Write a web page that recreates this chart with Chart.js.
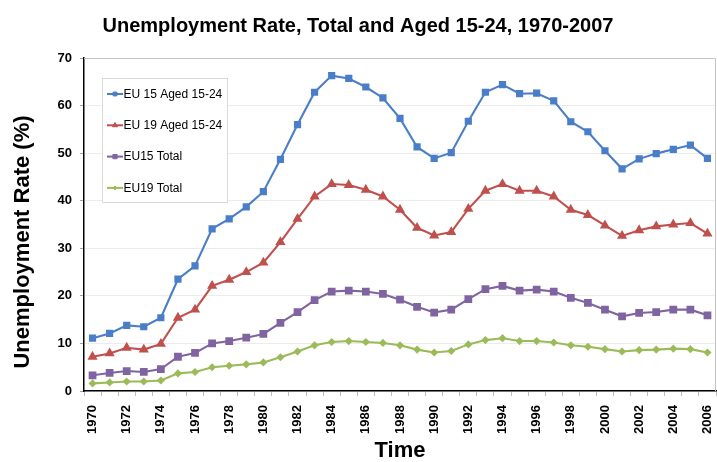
<!DOCTYPE html>
<html>
<head>
<meta charset="utf-8">
<script src="https://cdn.jsdelivr.net/npm/chart.js@4"></script>
<style>
  html, body { margin: 0; padding: 0; background: #fff; }
  #wrap { width: 717px; height: 462px; }
</style>
</head>
<body>
<div id="wrap"><canvas id="myChart" width="717" height="462"></canvas></div>
<script>
var years = [];
for (var y = 1970; y <= 2006; y++) years.push(String(y));

var eu15Young = [11.1, 12.1, 13.8, 13.5, 15.4, 23.5, 26.3, 34.1, 36.2, 38.7, 41.9, 48.7, 56.0, 62.8, 66.3, 65.7, 63.9, 61.6,
  57.3, 51.3, 48.9, 50.1, 56.7, 62.8, 64.4, 62.5, 62.6, 61.0, 56.6, 54.5, 50.5, 46.7, 48.8, 49.9, 50.8, 51.7, 48.9];
var eu19Young = [7.2, 7.9, 9.1, 8.7, 9.9, 15.4, 17.1, 22.1, 23.4, 25.0, 27.0, 31.3, 36.2, 40.9, 43.5, 43.3, 42.3, 40.9,
  38.1, 34.3, 32.7, 33.4, 38.3, 42.1, 43.5, 42.1, 42.1, 40.9, 38.1, 37.0, 34.8, 32.6, 33.8, 34.6, 35.0, 35.3, 33.1];
var eu15Total = [3.3, 3.8, 4.2, 4.0, 4.6, 7.2, 8.0, 10.0, 10.5, 11.2, 12.0, 14.3, 16.6, 19.1, 20.9, 21.1, 20.9, 20.4,
  19.2, 17.7, 16.5, 17.1, 19.3, 21.4, 22.1, 21.1, 21.3, 20.9, 19.6, 18.5, 17.1, 15.7, 16.4, 16.6, 17.1, 17.1, 15.9];
var eu19Total = [1.6, 1.8, 2.0, 2.0, 2.2, 3.7, 4.0, 5.0, 5.3, 5.6, 6.0, 7.1, 8.3, 9.6, 10.3, 10.5, 10.3, 10.1,
  9.6, 8.7, 8.1, 8.4, 9.8, 10.7, 11.1, 10.5, 10.5, 10.2, 9.6, 9.3, 8.8, 8.3, 8.6, 8.7, 8.9, 8.8, 8.1];

var FONT = "'Liberation Sans', Arial, sans-serif";

// markers may overflow the plot; don't let them shrink the chart area
Chart.LineController.prototype.getMaxOverflow = function () { return 0; };

// legend box inside plot + frame + y title
var extras = {
  id: "extras",
  beforeDatasetsDraw: function (chart) {
    var ctx = chart.ctx, a = chart.chartArea;
    ctx.save();
    ctx.strokeStyle = "#c4c4c4";
    ctx.lineWidth = 1;
    ctx.beginPath();
    ctx.moveTo(a.left, a.top + 0.5);
    ctx.lineTo(a.right - 0.5, a.top + 0.5);
    ctx.lineTo(a.right - 0.5, a.bottom);
    ctx.stroke();
    ctx.restore();
  },
  afterDatasetsDraw: function (chart) {
    var ctx = chart.ctx;
    ctx.save();
    ctx.fillStyle = "#fff";
    ctx.strokeStyle = "#d9d9d9";
    ctx.lineWidth = 1;
    ctx.fillRect(102, 78, 126, 125);
    ctx.strokeRect(102.5, 78.5, 125, 124);
    chart.data.datasets.forEach(function (ds, i) {
      var cy = 94 + i * 31.3;
      ctx.strokeStyle = ds.borderColor;
      ctx.fillStyle = ds.borderColor;
      ctx.lineWidth = 2;
      ctx.beginPath();
      ctx.moveTo(107, cy);
      ctx.lineTo(123, cy);
      ctx.stroke();
      ctx.lineWidth = 1;
      Chart.helpers.drawPoint(ctx, {
        pointStyle: ds.pointStyle, radius: ds.pointRadius * 0.75, rotation: 0, borderWidth: 1
      }, 115, cy);
      ctx.fillStyle = "#000";
      ctx.font = "12px " + FONT;
      ctx.textBaseline = "middle";
      ctx.textAlign = "left";
      ctx.fillText(ds.label, 123.5, cy + 0.5);
    });
    ctx.restore();
  },
  afterDraw: function (chart) {
    var ctx = chart.ctx;
    ctx.save();
    ctx.translate(23, 242);
    ctx.rotate(-Math.PI / 2);
    ctx.fillStyle = "#000";
    ctx.font = "bold 22px " + FONT;
    ctx.textAlign = "center";
    ctx.textBaseline = "middle";
    ctx.fillText("Unemployment Rate (%)", 0, 0);
    ctx.restore();
  }
};

function series(label, data, color, style, r) {
  return {
    label: label,
    data: data,
    borderColor: color,
    backgroundColor: color,
    pointBackgroundColor: color,
    pointBorderColor: color,
    borderWidth: 2.1,
    pointStyle: style,
    pointRadius: r,
    pointHoverRadius: r,
    tension: 0,
    fill: false,
    clip: false
  };
}

function noPad(s) {
  s.paddingLeft = 0; s.paddingRight = 0; s.paddingTop = 0; s.paddingBottom = 0;
}

var ctx = document.getElementById("myChart").getContext("2d");
var myChart = new Chart(ctx, {
  type: "line",
  data: {
    labels: years,
    datasets: [
      series("EU 15 Aged 15-24", eu15Young, "#4A7EC8", "rect", 3.6),
      series("EU 19 Aged 15-24", eu19Young, "#C0504D", "triangle", 3.8),
      series("EU15 Total", eu15Total, "#8064A2", "rect", 4),
      series("EU19 Total", eu19Total, "#9BBB59", "rectRot", 2.6)
    ]
  },
  options: {
    responsive: false,
    animation: false,
    layout: { padding: { left: 0, right: 1, top: 0, bottom: 0 } },
    plugins: {
      legend: { display: false },
      tooltip: { enabled: false },
      title: {
        display: true,
        text: "Unemployment Rate, Total and Aged 15-24, 1970-2007",
        color: "#000",
        font: { family: FONT, size: 20, weight: "bold", lineHeight: 1.2 },
        padding: { top: 14, bottom: 20 }
      }
    },
    scales: {
      x: {
        offset: true,
        grid: { offset: true, drawOnChartArea: false, tickLength: 5, tickColor: "#bdbdbd" },
        border: { color: "#000", width: 1.5 },
        ticks: {
          autoSkip: false,
          minRotation: 90,
          maxRotation: 90,
          padding: 9,
          color: "#000",
          font: { family: FONT, size: 13, weight: "bold" },
          callback: function (v, i) { return i % 2 === 0 ? years[i] : ""; }
        },
        title: {
          display: true,
          text: "Time",
          color: "#000",
          font: { family: FONT, size: 22, weight: "bold", lineHeight: 1 },
          padding: { top: 0, bottom: 0 }
        },
        afterFit: function (s) { s.height = 71; noPad(s); }
      },
      y: {
        min: 0,
        max: 70,
        grid: { color: "#ececec", tickLength: 4, tickColor: "#a6a6a6" },
        border: { color: "#000", width: 1.5 },
        ticks: {
          stepSize: 10,
          padding: 8,
          color: "#000",
          font: { family: FONT, size: 13, weight: "bold" }
        },
        afterFit: function (s) { s.width = 84; noPad(s); }
      }
    }
  },
  plugins: [extras]
});
</script>
</body>
</html>
